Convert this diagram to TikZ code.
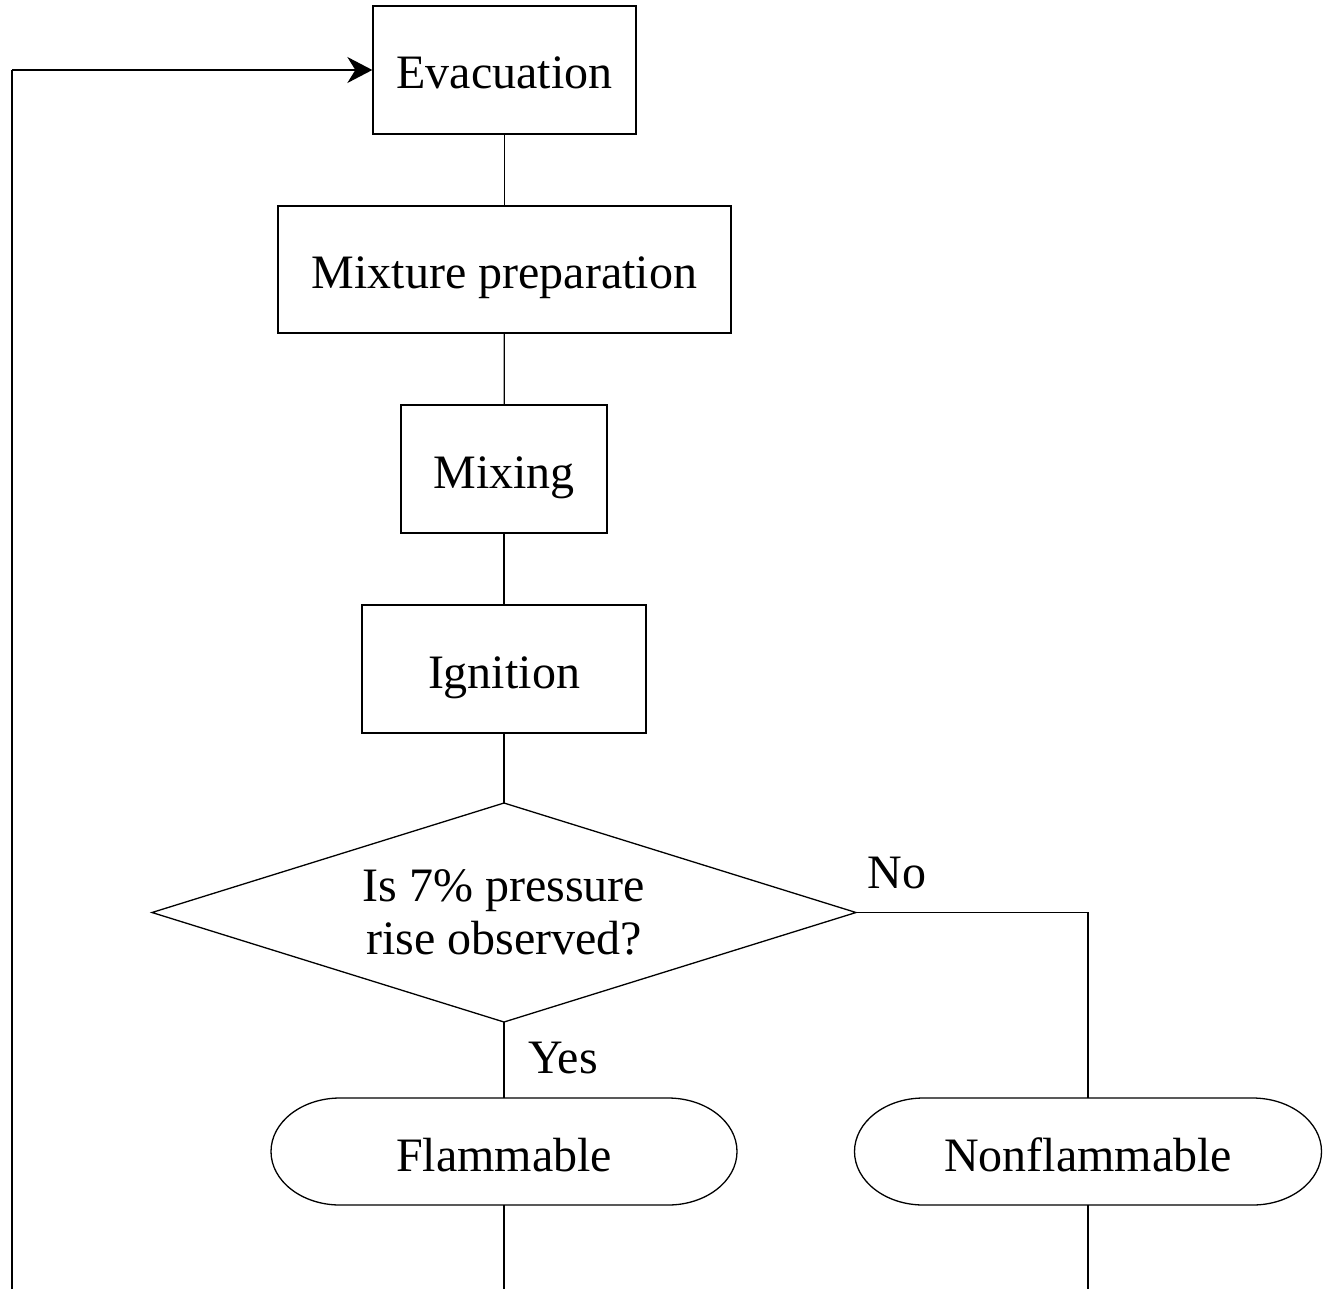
\documentclass[tikz,border=0pt]{standalone}
\usepackage{fontspec}
\setmainfont{Liberation Serif}
\usetikzlibrary{arrows.meta}
\begin{document}
\begin{tikzpicture}[x=0.5pt,y=-0.5pt,
  every node/.style={font=\fontsize{24}{27.5}\selectfont},
  procbox/.style={draw,line width=0.65pt,inner sep=0pt,minimum height=64pt,text height=19pt,text depth=0pt},
  decbox/.style={inner sep=0pt,outer sep=0pt,minimum width=352pt,minimum height=109.5pt,align=center},
  termbox/.style={inner sep=0pt,outer sep=0pt,minimum height=53.5pt,text height=19.5pt,text depth=0pt},
  conn/.style={line width=0.65pt},
  loopconn/.style={line width=1pt,-{Stealth[length=12.5pt,width=13pt,inset=4pt]}}]
\useasboundingbox (0,0) rectangle (1325,1289);
\node[procbox,minimum width=131.5pt] (evac) at (504.5,70) {Evacuation};
\node[procbox,minimum width=226.5pt,minimum height=63.5pt] (prep) at (504.5,269.5) {Mixture preparation};
\node[procbox,minimum width=103pt] (mix) at (504,469) {Mixing};
\node[procbox,minimum width=142pt] (ign) at (504,669) {Ignition};
\node[decbox] (dec) at (504,912.5) {\raisebox{-1pt}{Is 7\% pressure}\\rise observed?};
\draw[conn] (dec.north) -- (dec.east) -- (dec.south) -- (dec.west) -- cycle;
\node[termbox,minimum width=233pt] (flam) at (504,1151.5) {Flammable};
\node[termbox,minimum width=233.5pt] (nonflam) at (1088,1151.5) {Nonflammable};
\foreach \n in {flam,nonflam}{
  \draw[conn] ([xshift=34.5pt]\n.north west) -- ([xshift=-34.5pt]\n.north east)
    arc[start angle=90,end angle=-90,x radius=34.5pt,y radius=26.75pt]
    -- ([xshift=34.5pt]\n.south west)
    arc[start angle=270,end angle=90,x radius=34.5pt,y radius=26.75pt] -- cycle;
}
\node (no) at (897,873) {No};
\node (yes) at (563,1058) {Yes};
\coordinate (loopbot) at (12,1289);
\coordinate (flambot) at (504,1289);
\coordinate (nonflambot) at (1088,1289);
\draw[conn] (evac) -- (prep);
\draw[conn] (prep) -- (mix);
\draw[conn] (mix) -- (ign);
\draw[conn] (ign) -- (dec.north);
\draw[conn] (dec.south) -- (flam.north);
\draw[conn] (dec.east) -| (nonflam.north);
\draw[conn] (flam.south) -- (flambot);
\draw[conn] (nonflam.south) -- (nonflambot);
\draw[conn] (loopbot) -- (12,70);
\draw[loopconn] (12,70) -- (evac.west);
\end{tikzpicture}
\end{document}
